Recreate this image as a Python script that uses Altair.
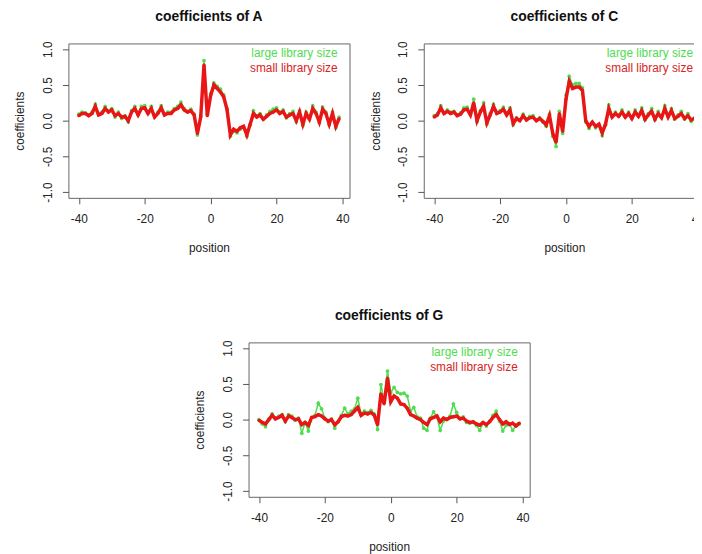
import altair as alt
import pandas as pd

positions = list(range(-40, 40))

A_large = [0.09, 0.12, 0.11, 0.08, 0.12, 0.23, 0.09, 0.12, 0.20, 0.13,
           0.17, 0.05, 0.12, 0.03, 0.07, -0.02, 0.14, 0.20, 0.09, 0.20,
           0.21, 0.12, 0.20, 0.06, 0.12, 0.21, 0.09, 0.12, 0.12, 0.17,
           0.20, 0.26, 0.17, 0.13, 0.16, 0.09, -0.20, 0.07, 0.84, 0.09,
           0.38, 0.53, 0.48, 0.44, 0.36, 0.17, -0.22, -0.15, -0.17, -0.12,
           -0.09, -0.22, -0.06, 0.14, 0.07, 0.10, 0.03, 0.08, 0.13, 0.16,
           0.18, 0.12, 0.15, 0.04, 0.10, 0.13, -0.02, 0.14, -0.07, 0.12,
           0.03, 0.21, 0.12, -0.03, 0.19, 0.12, -0.06, 0.12, -0.10, 0.05]
A_small = [0.07, 0.10, 0.10, 0.07, 0.10, 0.20, 0.08, 0.10, 0.17, 0.12,
           0.15, 0.07, 0.10, 0.05, 0.06, 0.00, 0.12, 0.17, 0.08, 0.17,
           0.18, 0.10, 0.17, 0.05, 0.10, 0.18, 0.08, 0.10, 0.10, 0.15,
           0.17, 0.22, 0.15, 0.12, 0.14, 0.08, -0.18, 0.05, 0.78, 0.07,
           0.35, 0.50, 0.45, 0.40, 0.33, 0.15, -0.20, -0.12, -0.15, -0.10,
           -0.08, -0.20, -0.05, 0.10, 0.05, 0.08, 0.02, 0.06, 0.10, 0.12,
           0.15, 0.10, 0.13, 0.05, 0.08, 0.10, 0.00, 0.12, -0.05, 0.10,
           0.02, 0.17, 0.10, -0.02, 0.16, 0.10, -0.05, 0.10, -0.08, 0.03]

C_large = [0.07, 0.10, 0.21, 0.11, 0.15, 0.12, 0.13, 0.08, 0.11, 0.18,
           0.19, 0.09, 0.30, -0.02, 0.14, 0.25, -0.05, 0.10, 0.23, 0.12,
           0.14, 0.19, 0.09, 0.18, -0.06, 0.04, 0.01, 0.09, 0.02, 0.06,
           0.07, 0.01, 0.04, -0.02, -0.08, 0.09, -0.22, -0.36, 0.13, -0.18,
           0.36, 0.62, 0.50, 0.52, 0.52, 0.46, -0.02, -0.11, -0.03, -0.10,
           -0.07, -0.21, -0.06, 0.22, 0.06, 0.12, 0.07, 0.15, 0.06, 0.12,
           0.04, 0.15, 0.07, 0.18, 0.01, 0.10, 0.17, 0.01, 0.13, 0.05,
           0.21, 0.06, 0.17, 0.02, 0.08, 0.13, 0.02, 0.10, -0.01, 0.04]
C_small = [0.05, 0.08, 0.18, 0.10, 0.13, 0.10, 0.12, 0.07, 0.09, 0.15,
           0.16, 0.08, 0.25, 0.00, 0.12, 0.20, -0.03, 0.08, 0.20, 0.10,
           0.12, 0.16, 0.08, 0.15, -0.04, 0.03, 0.00, 0.07, 0.01, 0.04,
           0.05, 0.00, 0.03, -0.01, -0.06, 0.07, -0.18, -0.30, 0.10, -0.15,
           0.30, 0.55, 0.45, 0.47, 0.47, 0.42, 0.00, -0.08, -0.02, -0.08,
           -0.05, -0.17, -0.05, 0.17, 0.05, 0.10, 0.06, 0.12, 0.05, 0.10,
           0.03, 0.12, 0.06, 0.14, 0.02, 0.08, 0.13, 0.02, 0.10, 0.04,
           0.17, 0.05, 0.14, 0.03, 0.06, 0.10, 0.03, 0.07, 0.01, 0.03]

G_large = [0.00, -0.06, -0.10, 0.01, 0.08, 0.02, 0.05, 0.07, -0.03, 0.07,
           0.05, -0.01, 0.02, -0.19, -0.04, -0.16, 0.03, 0.06, 0.23, 0.15,
           0.02, -0.03, 0.01, -0.12, -0.03, 0.06, 0.16, 0.08, 0.12, 0.15,
           0.30, 0.08, 0.12, 0.10, 0.13, 0.08, -0.14, 0.49, 0.27, 0.68,
           0.38, 0.45, 0.38, 0.36, 0.37, 0.33, 0.12, 0.17, 0.04, 0.02,
           -0.12, -0.15, 0.02, 0.11, 0.04, -0.15, -0.02, 0.01, 0.05, 0.22,
           0.10, 0.02, 0.04, -0.04, -0.05, -0.04, -0.08, -0.15, -0.05, -0.09,
           -0.02, 0.06, 0.12, -0.02, -0.16, -0.08, -0.06, -0.15, -0.08, -0.06]
G_small = [-0.01, -0.04, -0.06, 0.00, 0.06, 0.01, 0.03, 0.06, -0.02, 0.05,
           0.03, 0.00, 0.01, -0.07, -0.04, -0.08, 0.03, 0.04, 0.07, 0.05,
           0.01, -0.02, 0.00, -0.07, -0.03, 0.04, 0.06, 0.05, 0.07, 0.12,
           0.17, 0.06, 0.09, 0.08, 0.10, 0.06, -0.07, 0.36, 0.22, 0.58,
           0.25, 0.33, 0.30, 0.22, 0.21, 0.16, 0.07, 0.05, 0.02, 0.00,
           -0.04, -0.07, 0.01, 0.03, 0.05, -0.03, 0.02, 0.00, 0.03, 0.04,
           0.05, 0.01, 0.02, -0.02, -0.04, -0.03, -0.06, -0.08, -0.04, -0.07,
           -0.03, 0.03, 0.07, 0.00, -0.06, -0.03, -0.07, -0.05, -0.09, -0.05]

x_ticks = [-40, -20, 0, 20, 40]
y_ticks = [-1.0, -0.5, 0.0, 0.5, 1.0]
legend_labels = ["large library size", "small library size"]

GREEN = "#4fdc4f"
RED = "#e81616"
FONT = "Liberation Sans"
W, H = 284, 156


def panel(letter, large, small):
    df = pd.DataFrame({
        "position": positions + positions,
        "coef": large + small,
        "series": ["large"] * len(positions) + ["small"] * len(positions),
    })
    x = alt.X("position:Q",
              scale=alt.Scale(domain=[-43.16, 42.16], nice=False, zero=False),
              axis=alt.Axis(values=x_ticks, title="position", labelPadding=10,
                            titleY=54, titleBaseline="alphabetic",
                            labelExpr="replace(datum.label, '\u2212', '-')"))
    y = alt.Y("coef:Q",
              scale=alt.Scale(domain=[-1.08, 1.08], nice=False, zero=False),
              axis=alt.Axis(values=y_ticks, format=".1f", title="coefficients",
                            labelAngle=270, labelAlign="center", labelBaseline="bottom",
                            labelPadding=8, titleX=-49, titleBaseline="middle",
                            labelExpr="replace(datum.label, '\u2212', '-')"))
    base = alt.Chart(df)
    g = base.transform_filter(alt.datum.series == "large")
    r = base.transform_filter(alt.datum.series == "small")
    g_line = g.mark_line(color=GREEN, strokeWidth=1.5).encode(x=x, y=y)
    g_pts = g.mark_circle(color=GREEN, size=14, opacity=1).encode(x=x, y=y)
    r_line = r.mark_line(color=RED, strokeWidth=3.5).encode(x=x, y=y)
    r_pts = r.mark_circle(color=RED, size=10, opacity=1).encode(x=x, y=y)
    leg_df = pd.DataFrame({"t": legend_labels})
    leg1 = alt.Chart(leg_df).transform_filter(alt.datum.t == legend_labels[0]).mark_text(
        align="right", baseline="alphabetic", fontSize=12, font=FONT, color=GREEN
    ).encode(x=alt.value(272), y=alt.value(13.5), text="t:N")
    leg2 = alt.Chart(leg_df).transform_filter(alt.datum.t == legend_labels[1]).mark_text(
        align="right", baseline="alphabetic", fontSize=12, font=FONT, color="#d82424"
    ).encode(x=alt.value(272), y=alt.value(28.5), text="t:N")
    return alt.layer(g_line, g_pts, r_line, r_pts, leg1, leg2).properties(
        width=W, height=H,
        title=alt.TitleParams(f"coefficients of {letter}", fontSize=14, font=FONT,
                              fontWeight="bold", anchor="middle", frame="group",
                              baseline="alphabetic", offset=6, color="#111"),
    )


spacer = alt.Chart(pd.DataFrame({"a": [0]})).mark_point(opacity=0).encode(
    x=alt.value(0), y=alt.value(0)
).properties(width=116, height=10, view=alt.ViewBackground(strokeOpacity=0))

top = alt.hconcat(panel("A", A_large, A_small), panel("C", C_large, C_small), spacing=18)
bottom = alt.hconcat(spacer, panel("G", G_large, G_small), spacing=10)

chart = alt.vconcat(top, bottom, spacing=54).properties(
    padding={"left": 5, "top": -2, "right": -12, "bottom": 0},
    background="white",
).configure_view(stroke="#666", strokeWidth=1).configure_axis(
    grid=False, domain=False, ticks=True, tickSize=6, tickColor="#555",
    labelFont=FONT, labelFontSize=12, labelColor="#222",
    titleFont=FONT, titleFontSize=12, titleFontWeight="normal", titleColor="#222",
)

chart.save("out.html", embed_options={"renderer": "svg", "actions": False})
